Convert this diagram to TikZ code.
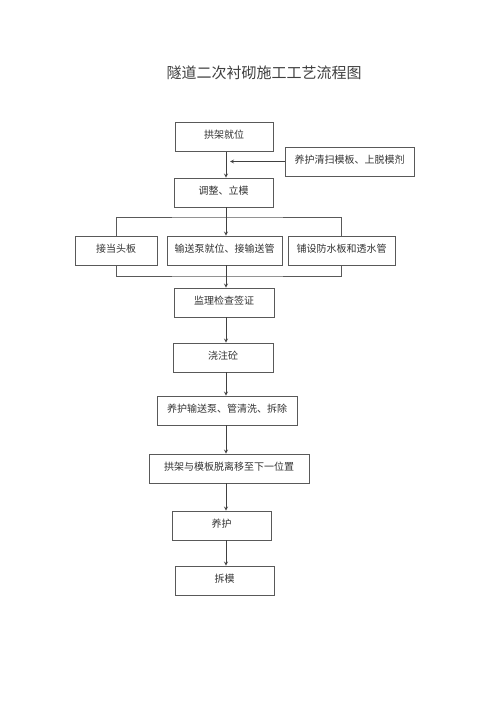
\documentclass[tikz,border=0pt]{standalone}
\usepackage{fontspec}
\newfontfamily\cjk{Noto Sans CJK SC}
\usepackage{tikz}
\usetikzlibrary{positioning}
\usetikzlibrary{shapes.geometric, arrows}
\tikzstyle{arrow} = [->,>=stealth,line width=0.8bp,draw=black!75]
\tikzstyle{stepbox} = [draw=black!65,line width=0.8bp,minimum height=29bp,inner sep=0pt,
  text=black!80,font=\cjk\fontsize{10bp}{12bp}\selectfont,text height=8bp,text depth=5bp]
\tikzstyle{rail} = [line width=0.8bp,draw=black!65]

\begin{document}
\begin{tikzpicture}[x=1bp,y=-1bp]
	\useasboundingbox[fill=white] (0,0) rectangle (500,707);
	
	%Title
	\node[text=black!75,font=\cjk\fontsize{15bp}{18bp}\selectfont] (title) at (264,73) {隧道二次衬砌施工工艺流程图};
	
	%Coordinates
	\coordinate (spine) at (226,0);
	\coordinate (forkTop) at (226,217);
	\coordinate (forkBot) at (226,276);
	
	%Nodes
	\node[stepbox,minimum width=98bp] (start) at (224,137) {拱架就位};
	\node[stepbox,minimum width=129bp] (clean) at (349.5,161.5) {养护清扫模板、上脱模剂};
	\node[stepbox,minimum width=99bp] (adjust) at (223.5,192.5) {调整、立模};
	\node[stepbox,minimum width=82bp] (head) at (116,250.5) {接当头板};
	\node[stepbox,minimum width=115bp] (pump) at (224.5,250.5) {输送泵就位、接输送管};
	\node[stepbox,minimum width=107bp] (water) at (341.5,250.5) {铺设防水板和透水管};
	\node[stepbox,minimum width=100bp] (check) at (224,302.5) {监理检查签证};
	\node[stepbox,minimum width=100bp] (pour) at (223,357.5) {浇注砼};
	\node[stepbox,minimum width=140bp] (wash) at (227,410.5) {养护输送泵、管清洗、拆除};
	\node[stepbox,minimum width=160bp] (move) at (229,468.5) {拱架与模板脱离移至下一位置};
	\node[stepbox,minimum width=99bp] (cure) at (221.5,525.5) {养护};
	\node[stepbox,minimum width=99bp] (strip) at (224.5,580.5) {拆模};
	
	%Lines
	\draw[arrow] (start.south -| spine) -- (adjust.north -| spine);
	\draw[arrow,shorten >=4bp] (clean.west) -- (clean.west -| spine);
	\draw[rail] (head.north) |- (forkTop) -| (water.north);
	\draw[rail] (head.south) |- (forkBot) -| (water.south);
	\draw[arrow] (adjust.south -| spine) -- (pump.north -| spine);
	\draw[arrow] (pump.south -| spine) -- (check.north -| spine);
	\draw[arrow] (check.south -| spine) -- (pour.north -| spine);
	\draw[arrow] (pour.south -| spine) -- (wash.north -| spine);
	\draw[arrow] (wash.south -| spine) -- (move.north -| spine);
	\draw[arrow] (move.south -| spine) -- (cure.north -| spine);
	\draw[arrow] (cure.south -| spine) -- (strip.north -| spine);
	
\end{tikzpicture}
\end{document}
